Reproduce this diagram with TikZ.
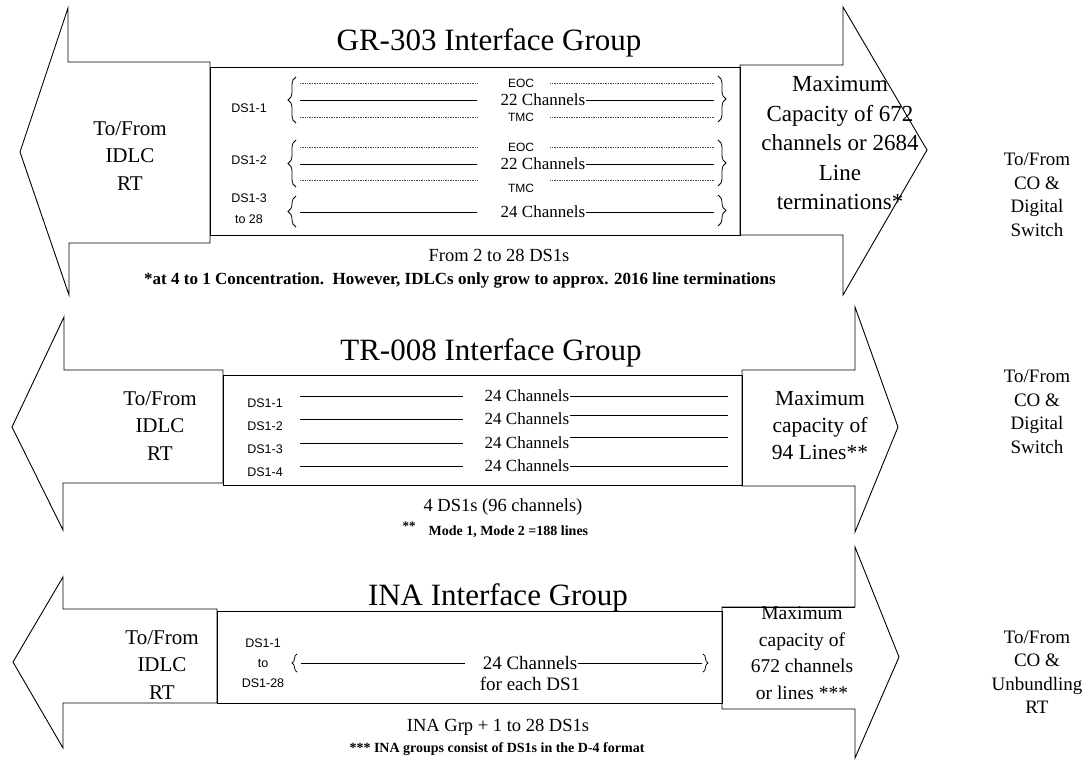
\documentclass[tikz,border=0pt]{standalone}
\usepackage{fontspec}
\setmainfont{Liberation Serif}
\setsansfont{Liberation Sans}
\usetikzlibrary{positioning,decorations.pathreplacing}
\tikzstyle{outl}=[draw,line width=0.9pt,fill=white]
\tikzstyle{grp}=[draw,line width=0.9pt]
\tikzstyle{ttl}=[font=\fontsize{31}{34}\selectfont]
\tikzstyle{side}=[font=\fontsize{21}{27.5}\selectfont,align=center]
\tikzstyle{far}=[font=\fontsize{19}{23.5}\selectfont,align=center]
\tikzstyle{ds}=[font=\sffamily\fontsize{12.5}{21}\selectfont,align=center,inner sep=0pt]
\tikzstyle{chn}=[font=\fontsize{17}{20}\selectfont,inner sep=1pt]
\tikzstyle{sig}=[font=\sffamily\fontsize{12}{14}\selectfont,inner sep=1pt]
\tikzstyle{sub}=[font=\fontsize{18.5}{22}\selectfont]
\tikzstyle{note}=[font=\bfseries\fontsize{14}{16}\selectfont]
\tikzstyle{lnk}=[draw,line width=0.8pt]
\tikzstyle{lnkd}=[draw,line width=0.7pt,densely dotted,black!70]
\tikzstyle{brc}=[draw,line width=0.8pt,decorate,decoration={brace,amplitude=8pt}]

\begin{document}
\begin{tikzpicture}[x=1pt,y=-1pt]
    \useasboundingbox (0,0) rectangle (1090,760);

    % GR-303 group
    \draw[outl] (210,62) -- (68,62) -- (68,8) -- (20,152) -- (69,295) -- (69,243) -- (210,243) -- cycle;
    \draw[outl] (740,65) -- (843,65) -- (843,7) -- (927,150) -- (843,295) -- (843,235) -- (740,235) -- cycle;
    \draw[grp] (210,67) rectangle (740,235);
    \node[ttl] (t1) at (489,43) {GR-303 Interface Group};
    \node[side] (idlc1) at (130,156) {To/From\\IDLC\\RT};
    \node[align=center,font=\fontsize{23}{29.5}\selectfont] (max1) at (840,143) {Maximum\\Capacity of 672\\channels or 2684\\Line\\terminations*};
    \node[far] (co1) at (1037,195) {To/From\\CO \&\\Digital\\Switch};
    \coordinate (xa) at (300,0);
    \coordinate (xb) at (477,0);
    \coordinate (xc) at (714,0);
    \node[ds] (d11) at (249,108) {DS1-1};
    \node[ds] (d12) at (249,160) {DS1-2};
    \node[ds] (d13) at (249,209) {DS1-3\\to 28};
    \node[sig] (eoc1) at (521,83) {EOC};
    \node[chn] (ch1) at (543,100) {22 Channels};
    \node[sig] (tmc1) at (521,117) {TMC};
    \node[sig] (eoc2) at (521,147) {EOC};
    \node[chn] (ch2) at (543,164) {22 Channels};
    \node[sig] (tmc2) at (521,188) {TMC};
    \node[chn] (ch3) at (543,212) {24 Channels};
    \draw[lnkd] (xa |- eoc1) -- (xb |- eoc1);
    \draw[lnkd] ([xshift=15pt]eoc1.east) -- (xc |- eoc1);
    \draw[lnk] (xa |- ch1) -- (xb |- ch1);
    \draw[lnk] (ch1.east) -- (xc |- ch1);
    \draw[lnkd] (xa |- tmc1) -- (xb |- tmc1);
    \draw[lnkd] ([xshift=15pt]tmc1.east) -- (xc |- tmc1);
    \draw[lnkd] (xa |- eoc2) -- (xb |- eoc2);
    \draw[lnkd] ([xshift=15pt]eoc2.east) -- (xc |- eoc2);
    \draw[lnk] (xa |- ch2) -- (xb |- ch2);
    \draw[lnk] (ch2.east) -- (xc |- ch2);
    \draw[lnkd] ([yshift=8pt]tmc2.center -| xa) -- ([yshift=8pt]tmc2.center -| xb);
    \draw[lnkd] ([xshift=15pt,yshift=8pt]tmc2.east) -- ([yshift=8pt]tmc2.center -| xc);
    \draw[lnk] (xa |- ch3) -- (xb |- ch3);
    \draw[lnk] (ch3.east) -- (xc |- ch3);
    \draw[brc] (296,123) -- (296,77);
    \draw[brc] (718,76) -- (718,122);
    \draw[brc] (296,187) -- (296,140);
    \draw[brc] (718,140) -- (718,186);
    \draw[brc] (296,227) -- (296,196);
    \draw[brc] (718,195) -- (718,226);
    \node[sub] (n1) at (499,255) {From 2 to 28 DS1s};
    \node[note,font=\bfseries\fontsize{17}{19}\selectfont] (f1) at (460,280) {*at 4 to 1 Concentration.\ \ However, IDLCs only grow to approx. 2016 line terminations};

    % TR-008 group
    \draw[outl] (223,370) -- (64,370) -- (64,317) -- (12,427) -- (63,530) -- (63,483) -- (223,483) -- cycle;
    \draw[outl] (742,370) -- (855,370) -- (855,307) -- (898,427) -- (855,532) -- (855,486) -- (742,486) -- cycle;
    \draw[grp] (223,375) rectangle (742,485);
    \node[ttl] (t2) at (491,353) {TR-008 Interface Group};
    \node[side] (idlc2) at (160,426) {To/From\\IDLC\\RT};
    \node[align=center,font=\fontsize{21.5}{27}\selectfont] (max2) at (820,425) {Maximum\\capacity of\\94 Lines**};
    \node[far] (co2) at (1037,412) {To/From\\CO \&\\Digital\\Switch};
    \coordinate (xd) at (300,0);
    \coordinate (xe) at (463,0);
    \coordinate (xf) at (728,0);
    \node[ds] (d21) at (265,403) {DS1-1};
    \node[ds] (d22) at (265,426) {DS1-2};
    \node[ds] (d23) at (265,449) {DS1-3};
    \node[ds] (d24) at (265,472) {DS1-4};
    \node[chn] (c21) at (527,396) {24 Channels};
    \node[chn] (c22) at (527,419) {24 Channels};
    \node[chn] (c23) at (527,443) {24 Channels};
    \node[chn] (c24) at (527,466) {24 Channels};
    \draw[lnk] (xd |- c21) -- (xe |- c21);
    \draw[lnk] (c21.east) -- (xf |- c21);
    \draw[lnk] (xd |- c22) -- (xe |- c22);
    \draw[lnk] ([yshift=4pt]c22.east) -- ([yshift=4pt]c22.east -| xf);
    \draw[lnk] (xd |- c23) -- (xe |- c23);
    \draw[lnk] ([yshift=6pt]c23.east) -- ([yshift=6pt]c23.east -| xf);
    \draw[lnk] (xd |- c24) -- (xe |- c24);
    \draw[lnk] (c24.east) -- (xf |- c24);
    \node[sub] (n2) at (503,507) {4 DS1s (96 channels)};
    \node[note,font=\bfseries\fontsize{13}{14}\selectfont] (s2) at (409,526) {**};
    \node[note,anchor=west] (f2) at (425,532) {Mode 1, Mode 2 =188 lines};

    % INA group
    \draw[outl] (217,609) -- (63,609) -- (63,577) -- (13,662) -- (63,748) -- (63,703) -- (217,703) -- cycle;
    \draw[outl] (722,607) -- (855,607) -- (855,547) -- (899,657) -- (855,758) -- (855,709) -- (722,709) -- cycle;
    \node[align=center,font=\fontsize{19.5}{26.5}\selectfont] (max3) at (802,653) {Maximum\\capacity of\\672 channels\\or lines ***};
    \draw[grp] (217,611) rectangle (722,703);
    \draw[grp] (722,607) -- (855,607);
    \node[ttl] (t3) at (498,598) {INA Interface Group};
    \node[side] (idlc3) at (162,665) {To/From\\IDLC\\RT};
    \node[far] (co3) at (1037,672) {To/From\\CO \&\\Unbundling\\RT};
    \node[ds,font=\sffamily\fontsize{12.5}{20}\selectfont] (d31) at (263,663) {DS1-1\\to\\DS1-28};
    \node[chn,font=\fontsize{19}{22}\selectfont] (c31) at (530,663) {24 Channels};
    \node[chn,font=\fontsize{19}{22}\selectfont,below=5pt of c31] (fe3) {for each DS1};
    \coordinate (xg) at (301,0);
    \coordinate (xh) at (465,0);
    \coordinate (xi) at (702,0);
    \draw[lnk] (xg |- c31) -- (xh |- c31);
    \draw[lnk] (c31.east) -- (xi |- c31);
    \draw[brc,decoration={brace,amplitude=5pt}] (297,672) -- (297,654);
    \draw[brc,decoration={brace,amplitude=5pt}] (703,654) -- (703,672);
    \node[sub] (n3) at (498,727) {INA Grp + 1 to 28 DS1s};
    \node[note] (f3) at (497,749) {*** INA groups consist of DS1s in the D-4 format};
\end{tikzpicture}
\end{document}
